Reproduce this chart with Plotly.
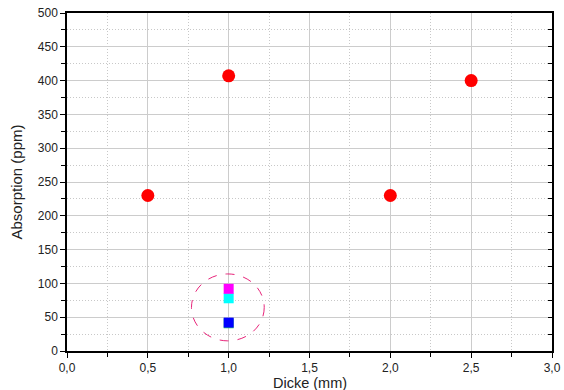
import plotly.graph_objects as go

# data
red_x = [0.5, 1.0, 2.0, 2.5]
red_y = [230, 407, 230, 400]
sq_x = [1.0]
green_y = [41]
blue_y = [42]
cyan_y = [78]
magenta_y = [92]
ellipse_x = [0.77, 1.22]
ellipse_y = [15, 114]

x_ticks = [0, 0.5, 1.0, 1.5, 2.0, 2.5, 3.0]
x_labels = ["0,0", "0,5", "1,0", "1,5", "2,0", "2,5", "3,0"]

fig = go.Figure()

fig.add_shape(type="circle", xref="x", yref="y",
              x0=ellipse_x[0], x1=ellipse_x[1], y0=ellipse_y[0], y1=ellipse_y[1],
              line=dict(color="#e8247a", width=1, dash="dash"))

fig.add_trace(go.Scatter(x=red_x, y=red_y, mode="markers",
                         marker=dict(symbol="circle", size=13, color="#ff0000"),
                         showlegend=False))
for yv, col in [(green_y, "#33cc66"), (blue_y, "#0000ff"), (cyan_y, "#00ffff"), (magenta_y, "#ff00ff")]:
    fig.add_trace(go.Scatter(x=sq_x, y=yv, mode="markers",
                             marker=dict(symbol="square", size=10, color=col),
                             showlegend=False))

# invisible trace for right axis inner ticks
fig.add_trace(go.Scatter(x=[0], y=[0], yaxis="y2", mode="markers",
                         marker=dict(opacity=0), showlegend=False, hoverinfo="skip"))

font = dict(family="Liberation Sans, Arial, sans-serif", color="#222222")

fig.update_layout(
    width=564, height=390,
    margin=dict(l=67, r=12, t=13, b=39),
    paper_bgcolor="white", plot_bgcolor="white",
    font=font,
    xaxis=dict(
        range=[0, 3], tickvals=x_ticks, ticktext=x_labels,
        ticks="outside", ticklen=5, tickwidth=1, tickcolor="black",
        showline=True, linecolor="black", linewidth=1.5, mirror=True,
        showgrid=True, gridcolor="#cccccc", gridwidth=1,
        zeroline=False, automargin=False,
        tickfont=dict(size=12),
        minor=dict(dtick=0.25, ticks="outside", ticklen=4, tickcolor="black",
                   showgrid=True, gridcolor="#c8c8c8", griddash="1px,2px", gridwidth=1),
    ),
    yaxis=dict(
        range=[0, 500], dtick=50,
        ticks="outside", ticklen=5, tickwidth=1, tickcolor="black",
        showline=True, linecolor="black", linewidth=1.5, mirror=True,
        showgrid=True, gridcolor="#cccccc", gridwidth=1,
        zeroline=False, automargin=False,
        tickfont=dict(size=12),
        title=dict(text="Absorption (ppm)", font=dict(size=15), standoff=12),
        minor=dict(dtick=25, ticks="outside", ticklen=4, tickcolor="black",
                   showgrid=True, gridcolor="#c8c8c8", griddash="1px,2px", gridwidth=1),
    ),
    yaxis2=dict(
        range=[0, 500], dtick=25, overlaying="y", side="right",
        ticks="inside", ticklen=4, tickcolor="black", automargin=False,
        showticklabels=False, showgrid=False, zeroline=False, showline=False,
    ),
    annotations=[dict(text="Dicke (mm)", xref="paper", yref="paper",
                      x=0.5, y=-32.0 / 338, xanchor="center", yanchor="middle",
                      showarrow=False, font=dict(size=14.5))],
)

fig.write_html("out.html")
